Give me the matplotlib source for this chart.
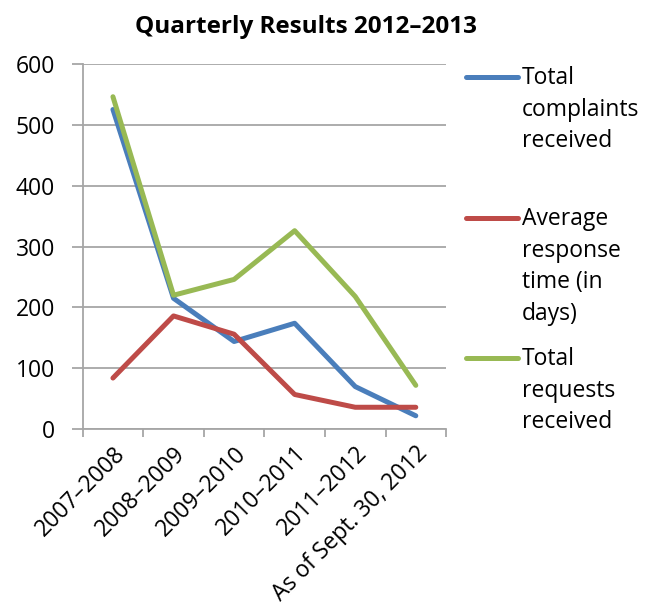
import matplotlib
matplotlib.use("Agg")
import matplotlib.pyplot as plt
from matplotlib.lines import Line2D
import numpy as np

# data
categories = ["2007\u20132008", "2008\u20132009", "2009\u20132010",
              "2010\u20132011", "2011\u20132012", "As of Sept. 30, 2012"]
complaints = [525, 215, 144, 174, 70, 22]
response_days = [84, 186, 156, 57, 36, 36]
requests = [546, 220, 246, 326, 218, 72]

series_labels = ["Total\ncomplaints\nreceived",
                 "Average\nresponse\ntime (in\ndays)",
                 "Total\nrequests\nreceived"]
colors = ["#4A7EBB", "#BE4B48", "#98B954"]

plt.rcParams["font.family"] = ["Open Sans", "DejaVu Sans"]

fig = plt.figure(figsize=(6.56, 6.14), dpi=100)
ax = fig.add_axes([0.126, 0.301, 0.554, 0.595])

x = np.arange(len(categories))
for vals, c in zip([complaints, response_days, requests], colors):
    ax.plot(x, vals, color=c, lw=3.6, solid_capstyle="round", solid_joinstyle="round")

ax.set_xlim(-0.5, len(categories) - 0.5)
ax.set_ylim(0, 600)
ax.set_yticks(range(0, 601, 100))
ax.yaxis.grid(True, color="#A6A6A6", lw=1.3)
ax.set_axisbelow(True)

# category ticks sit between the categories, labels at the centres
ax.set_xticks(np.arange(-0.5, len(categories), 1.0))
ax.set_xticklabels([])
ax.set_xticks(x, minor=True)
ax.set_xticklabels(categories, minor=True, rotation=45, ha="right",
                   rotation_mode="anchor", fontsize=16.5)
ax.tick_params(axis="x", which="minor", length=0, pad=9)
ax.tick_params(axis="x", which="major", length=6, color="#A6A6A6", width=1.3)
ax.tick_params(axis="y", length=8, color="#A6A6A6", width=1.3, labelsize=16.5, pad=12)

for s in ["top", "right"]:
    ax.spines[s].set_visible(False)
for s in ["left", "bottom"]:
    ax.spines[s].set_color("#A6A6A6")
    ax.spines[s].set_linewidth(1.3)

fig.text(306 / 656, 1 - 27 / 614, "Quarterly Results 2012\u20132013",
         ha="center", va="center", fontsize=17.5, fontweight="bold")

# legend drawn by hand, handle aligned with first text line
W, H = 656, 614
for lab, c, ly in zip(series_labels, colors, [77, 218, 358]):
    fig.add_artist(Line2D([466 / W, 518 / W], [1 - ly / H, 1 - ly / H],
                          color=c, lw=3.6, solid_capstyle="round"))
    fig.text(522 / W, 1 - (ly - 11) / H, lab, ha="left", va="top",
             fontsize=16.5, linespacing=1.42)

fig.savefig("out.png", dpi=100)
